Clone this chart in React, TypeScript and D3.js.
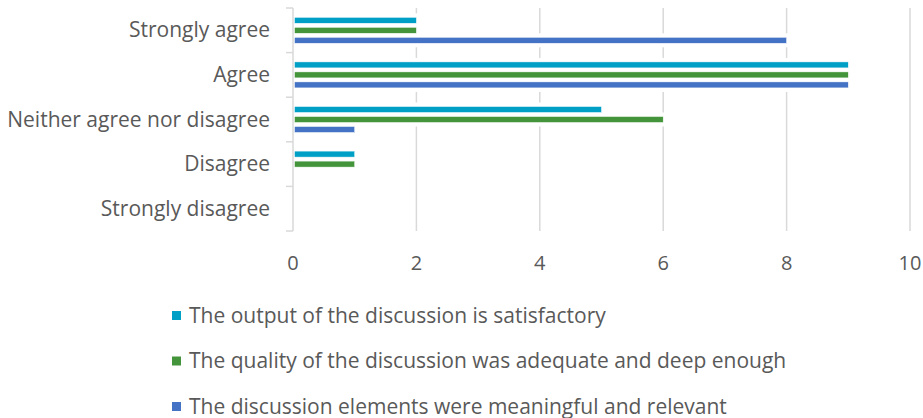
import React from "react";
import * as d3 from "d3";

const categories = ["Strongly agree", "Agree", "Neither agree nor disagree", "Disagree", "Strongly disagree"];
const seriesNames = [
  "The output of the discussion is satisfactory",
  "The quality of the discussion was adequate and deep enough",
  "The discussion elements were meaningful and relevant",
];
const outputValues = [2, 9, 5, 1, 0];
const qualityValues = [2, 9, 6, 1, 0];
const elementsValues = [8, 9, 1, 0, 0];
const xTicks = [0, 2, 4, 6, 8, 10];
const colors = ["#00A0C6", "#43943A", "#4472C4"];

const W = 923;
const H = 418;
const FONT = "'Open Sans', sans-serif";
const TEXT = "#595959";
const GRID = "#D9D9D9";

export default function App() {
  const allValues = [outputValues, qualityValues, elementsValues];
  const x = d3.scaleLinear().domain([0, 10]).range([293, 910]);
  const y = d3.scaleBand<string>().domain(categories).range([8, 231]);
  const sub = d3
    .scaleBand<string>()
    .domain(seriesNames)
    .range([-13, 13])
    .paddingInner(0.4);

  return (
    <svg
      width={W}
      height={H}
      style={{ position: "absolute", left: 0, top: 0, background: "#fff" }}
      fontFamily={FONT}
    >
      {/* gridlines */}
      {xTicks.slice(1).map((t) => (
        <line key={"g" + t} x1={x(t)} x2={x(t)} y1={8} y2={231} stroke={GRID} strokeWidth={1.5} />
      ))}
      {/* axis line and ticks */}
      <line x1={x(0)} x2={x(0)} y1={8} y2={231} stroke={GRID} strokeWidth={1.5} />
      {[...categories.map((c) => y(c)!), 231].map((v, i) => (
        <line key={"t" + i} x1={x(0) - 7} x2={x(0)} y1={v} y2={v} stroke={GRID} strokeWidth={1.5} />
      ))}
      {/* white masks behind bars */}
      {categories.map((c, ci) =>
        seriesNames.map((s, si) => {
          const v = allValues[si][ci];
          if (v <= 0) return null;
          const cy = y(c)! + y.bandwidth() / 2 + sub(s)!;
          return (
            <rect
              key={"m" + ci + "-" + si}
              x={x(0) + 1}
              y={cy - 4}
              width={x(v) - x(0) + 1}
              height={sub.bandwidth() + 8}
              fill="#fff"
            />
          );
        })
      )}
      {/* bars */}
      {categories.map((c, ci) =>
        seriesNames.map((s, si) => {
          const v = allValues[si][ci];
          if (v <= 0) return null;
          const cy = y(c)! + y.bandwidth() / 2 + sub(s)!;
          return (
            <rect
              key={"b" + ci + "-" + si}
              x={x(0) + 1.5}
              y={cy}
              width={x(v) - x(0) - 1.5}
              height={sub.bandwidth()}
              fill={colors[si]}
              stroke="#fff"
              strokeWidth={0.5}
            />
          );
        })
      )}
      {/* category labels */}
      {categories.map((c) => (
        <text
          key={"l" + c}
          x={270}
          y={y(c)! + y.bandwidth() / 2 - 1}
          textAnchor="end"
          dominantBaseline="central"
          fontSize={21}
          fill={TEXT}
        >
          {c}
        </text>
      ))}
      {/* x tick labels */}
      {xTicks.map((t) => (
        <text key={"x" + t} x={x(t)} y={262} textAnchor="middle" dominantBaseline="central" fontSize={20} fill={TEXT}>
          {t}
        </text>
      ))}
      {/* legend */}
      {seriesNames.map((s, i) => (
        <g key={"lg" + i} transform={`translate(172, ${315.5 + i * 45.5})`}>
          <rect x={0} y={-4.5} width={9} height={9} fill={colors[i]} />
          <text x={17} y={-1} dominantBaseline="central" fontSize={21} fill={TEXT}>
            {s}
          </text>
        </g>
      ))}
    </svg>
  );
}
